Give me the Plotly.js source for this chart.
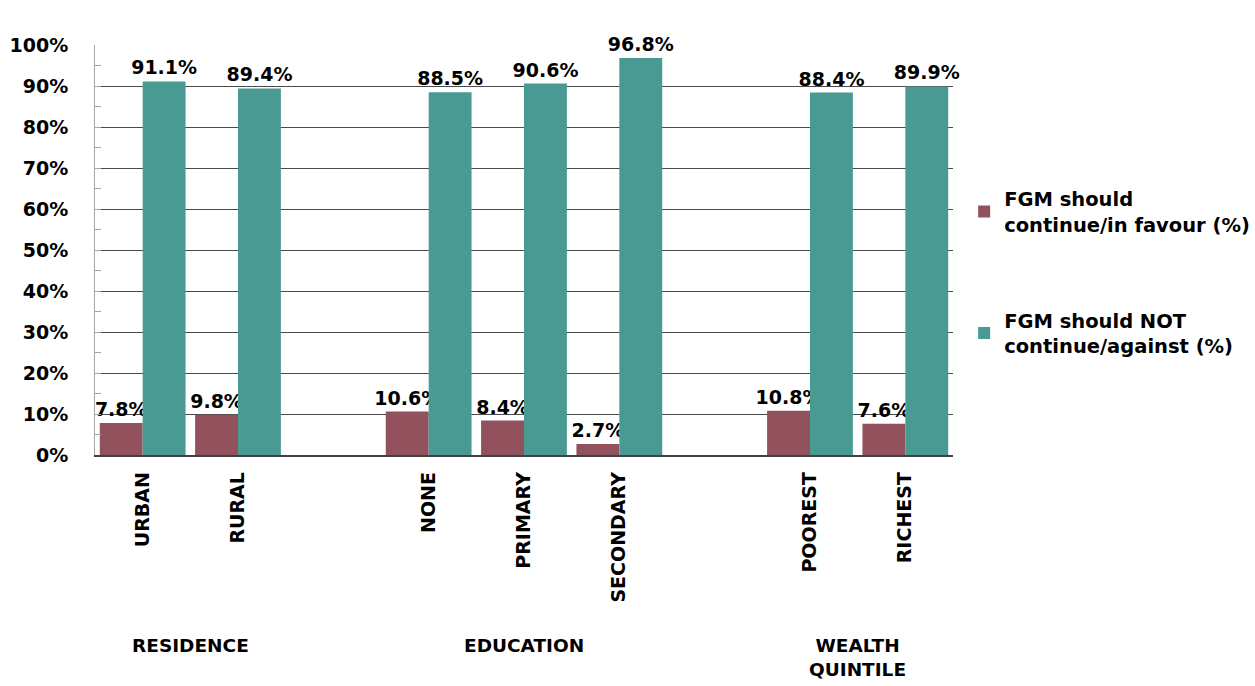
<!DOCTYPE html>
<html>
<head>
<meta charset="utf-8">
<script src="https://cdn.plot.ly/plotly-3.0.1.min.js"></script>
<style>html,body{margin:0;padding:0;background:#fff;}#chart{width:1255px;height:686px;}</style>
</head>
<body>
<div id="chart"></div>
<script>
const positions = [0, 1, 3, 4, 5, 7, 8];
const categories = ["URBAN", "RURAL", "NONE", "PRIMARY", "SECONDARY", "POOREST", "RICHEST"];
const inFavour = [7.8, 9.8, 10.6, 8.4, 2.7, 10.8, 7.6];
const against = [91.1, 89.4, 88.5, 90.6, 96.8, 88.4, 89.9];
const groupLabels = ["RESIDENCE", "EDUCATION", "WEALTH<br>QUINTILE"];
const groupCenters = [0.5, 4, 7.5];
const seriesNames = ["FGM should<br>continue/in favour (%)", "FGM should NOT<br>continue/against (%)"];

const FONT = "'DejaVu Sans', Verdana, sans-serif";
const labelFont = {family: FONT, size: 19, color: "#000", weight: 700};

const traces = [
  {type: "bar", x: positions, y: inFavour, name: seriesNames[0], legendgroup: "a",
   marker: {color: "#91525E"}, text: inFavour.map(v => v.toFixed(1) + "%"),
   textposition: "outside", textfont: labelFont, cliponaxis: false, hoverinfo: "none",
   constraintext: "none"},
  {type: "bar", x: positions, y: against, name: seriesNames[1], legendgroup: "b",
   marker: {color: "#4A9A94"}, text: against.map(v => v.toFixed(1) + "%"),
   textposition: "outside", textfont: labelFont, cliponaxis: false, hoverinfo: "none",
   constraintext: "none"}
];

const annotations = groupLabels.map((t, i) => ({
  text: t, x: groupCenters[i], xref: "x", y: -0.463, yref: "paper",
  yanchor: "top", xanchor: "center", showarrow: false, yshift: 12,
  font: {family: FONT, size: 18.5, color: "#000", weight: 700}
}));

const layout = {
  width: 1255, height: 686,
  margin: {l: 95, r: 302, t: 45, b: 231, autoexpand: false},
  paper_bgcolor: "#fff", plot_bgcolor: "#fff",
  barmode: "group", bargap: 0.1, bargroupgap: 0,
  showlegend: true,
  legend: {x: 1.013, xanchor: "left", y: 0.445, yanchor: "middle",
           traceorder: "grouped", tracegroupgap: 68,
           font: {family: FONT, size: 19.5, color: "#000", weight: 700},
           itemwidth: 30},
  xaxis: {range: [-0.5, 8.5], tickvals: positions, ticktext: categories,
          tickangle: -90, showgrid: false, ticks: "", showline: true,
          linecolor: "#404040", linewidth: 1.5, ticklabelstandoff: 8,
          tickfont: {family: FONT, size: 19, color: "#000", weight: 700}},
  yaxis: {range: [0, 100], dtick: 10, ticksuffix: "%", showgrid: true,
          gridcolor: "#4a4a4a", gridwidth: 1, showline: true, linecolor: "#a6a6a6",
          linewidth: 1, ticks: "inside", ticklen: 6, tickcolor: "#a6a6a6",
          zeroline: false, ticklabelstandoff: 22,
          minor: {dtick: 5, ticks: "inside", ticklen: 6, tickcolor: "#a6a6a6", showgrid: false},
          tickfont: {family: FONT, size: 19, color: "#000", weight: 700}},
  annotations: annotations
};

Plotly.newPlot("chart", traces, layout, {displayModeBar: false, staticPlot: true});
</script>
</body>
</html>
